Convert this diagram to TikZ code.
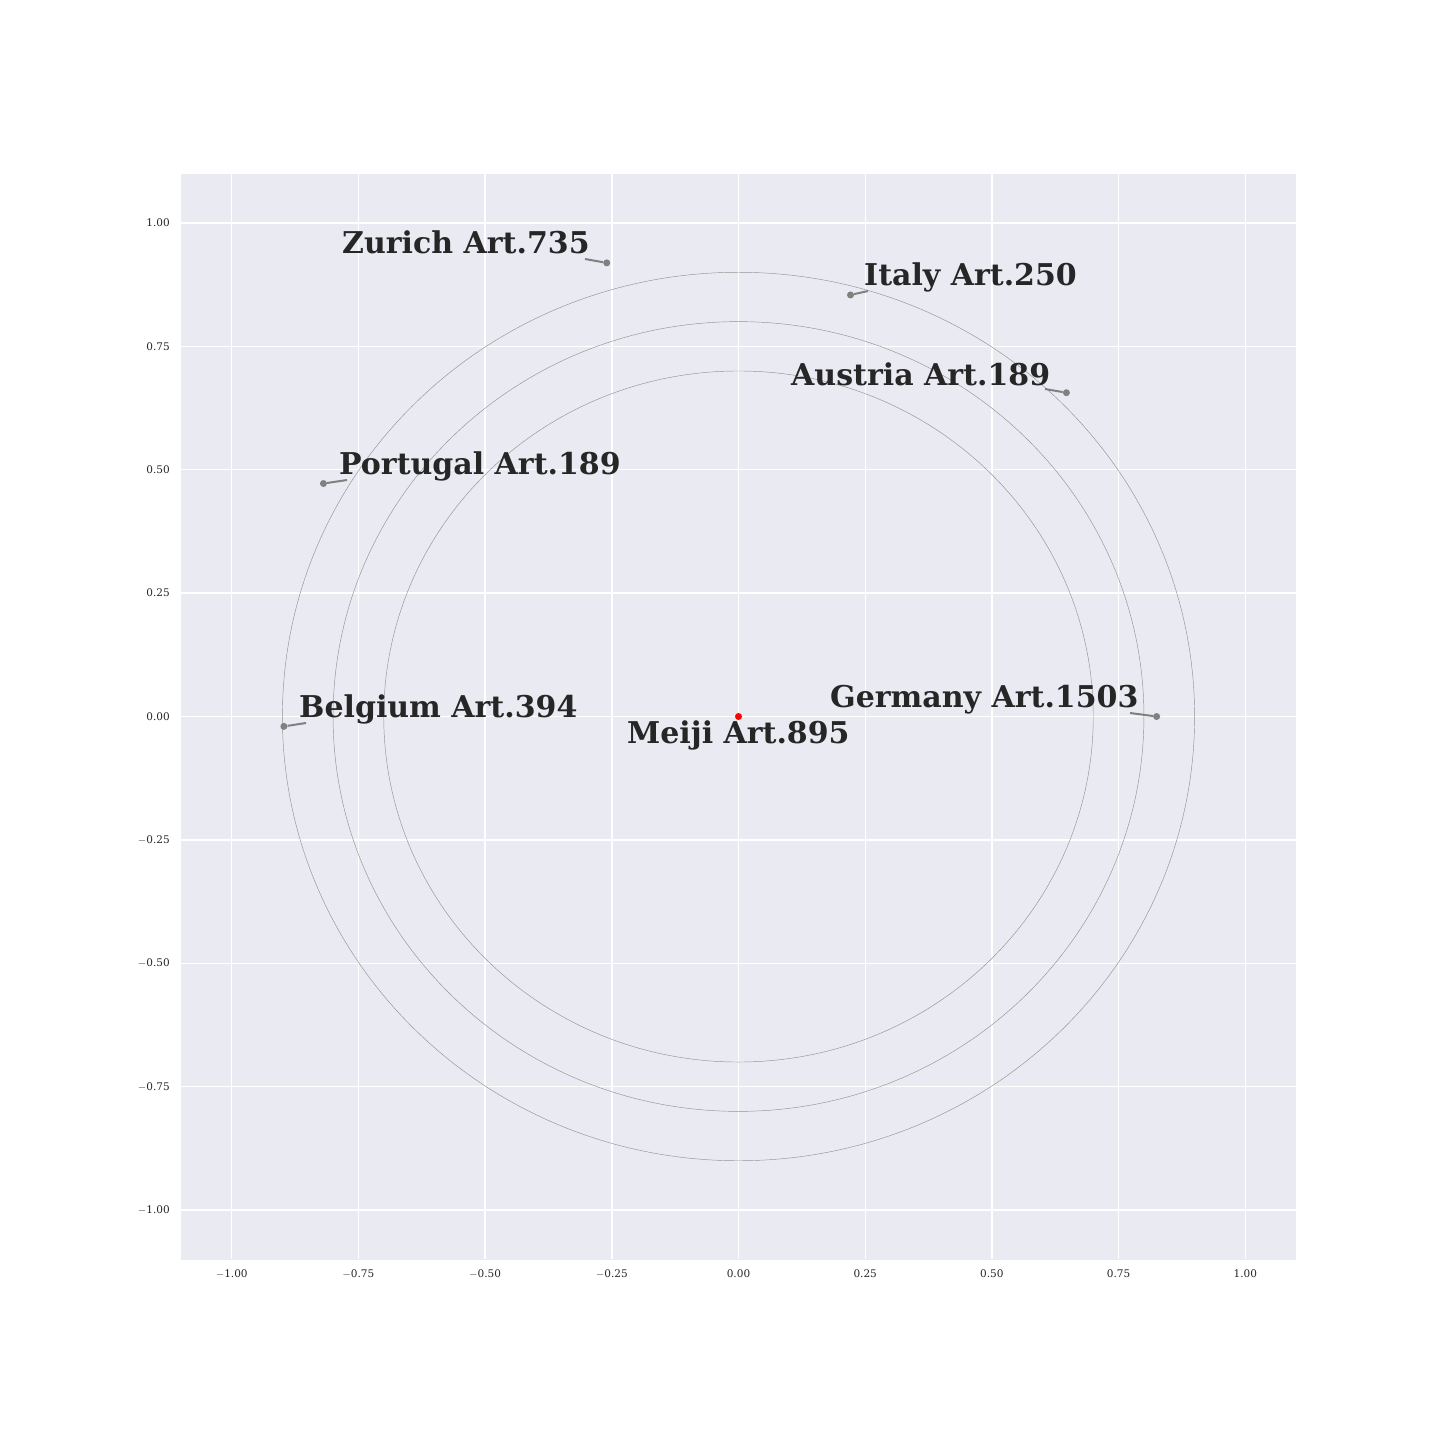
\documentclass[tikz,border=0pt]{standalone}
\usepackage{fontspec}
\setmainfont{DejaVu Serif}
\definecolor{bgax}{HTML}{EAEAF2}
\definecolor{txt}{HTML}{262626}
\tikzset{
  lbl/.style={font=\fontsize{30}{30}\selectfont\bfseries, text=txt, anchor=base west, inner sep=0pt},
  tick/.style={font=\fontsize{10.5}{10.5}\selectfont, text=txt, inner sep=0pt},
  pt/.style={circle, fill=gray, inner sep=0pt, minimum size=7pt},
  redpt/.style={circle, fill=red, inner sep=0pt, minimum size=7pt},
  conn/.style={draw=gray, line width=2pt},
  grid line/.style={draw=white, line width=1.4pt},
  ring/.style={draw=gray!85, line width=0.45pt}
}
\begin{document}
\begin{tikzpicture}[x=1pt,y=-1pt]
\useasboundingbox (0,0) rectangle (1440,1440);
\fill[white] (0,0) rectangle (1440,1440);
\fill[bgax] (181,174) rectangle (1296,1260);
\begin{scope}[shift={(738.5,716.5)}]
\begin{scope}[x=506.8pt,y=493.6pt]
  % grid
  \foreach \v in {-1,-0.75,-0.5,-0.25,0,0.25,0.5,0.75,1} {
    \draw[grid line] (\v,-1.1) -- (\v,1.1);
    \draw[grid line] (-1.1,\v) -- (1.1,\v);
  }
  % tick labels
  \foreach \v/\t in {-1/{$-$1.00},-0.75/{$-$0.75},-0.5/{$-$0.50},-0.25/{$-$0.25},0/{0.00},0.25/{0.25},0.5/{0.50},0.75/{0.75},1/{1.00}} {
    \node[tick, anchor=base] (xt\v) at ([yshift=-18pt]\v,-1.1) {\t};
    \node[tick, anchor=east] (yt\v) at ([xshift=-11pt]-1.1,\v) {\t};
  }
  % rings
  \draw[ring] (0,0) ellipse (0.9 and 0.9);
  \draw[ring] (0,0) ellipse (0.8 and 0.8);
  \draw[ring] (0,0) ellipse (0.7 and 0.7);
  % points
  \node[pt] (zur) at (-0.260,0.919) {};
  \node[pt] (ita) at (0.221,0.854) {};
  \node[pt] (aut) at (0.647,0.656) {};
  \node[pt] (por) at (-0.819,0.472) {};
  \node[pt] (bel) at (-0.897,-0.020) {};
  \node[pt] (ger) at (0.825,0.0) {};
  \node[redpt] (mei) at (0,0) {};
\end{scope}
\end{scope}
% labels (pixel coordinates)
\node[lbl] (lzur) at (342,253) {Zurich Art.735};
\node[lbl] (lita) at (864,285) {Italy Art.250};
\node[lbl] (laut) at (791,385) {Austria Art.189};
\node[lbl] (lpor) at (339,474) {Portugal Art.189};
\node[lbl] (lbel) at (299,717) {Belgium Art.394};
\node[lbl] (lger) at (830,707) {Germany Art.1503};
\node[lbl] (lmei) at (627,743) {Meiji Art.895};
% connector ends
\coordinate (czur) at (585,259);
\coordinate (cita) at (868,291);
\coordinate (caut) at (1045,389);
\coordinate (cpor) at (347,480);
\coordinate (cbel) at (306,723);
\coordinate (cger) at (1130,713);
\draw[conn] (zur) -- (czur);
\draw[conn] (ita) -- (cita);
\draw[conn] (aut) -- (caut);
\draw[conn] (por) -- (cpor);
\draw[conn] (bel) -- (cbel);
\draw[conn] (ger) -- (cger);
\end{tikzpicture}
\end{document}
